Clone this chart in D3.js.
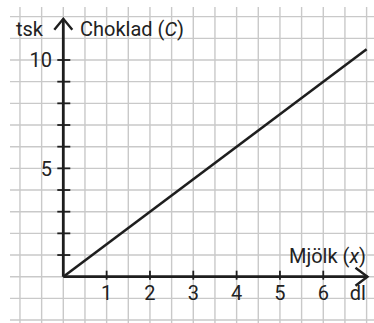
<!DOCTYPE html>
<html>
<head>
<meta charset="utf-8">
<script src="https://cdn.jsdelivr.net/npm/d3@7"></script>
<style>
  html, body { margin: 0; padding: 0; background: #fff; }
  svg text { font-family: Roboto, "Open Sans", sans-serif; fill: #222; }
</style>
</head>
<body>
<svg id="chart"></svg>
<script>
const xTicks = [1, 2, 3, 4, 5, 6]
const yTicks = [1, 2, 3, 4, 5, 6, 7, 8, 9, 10]
const yLabels = [5, 10]
const linePoints = [[0, 0], [7, 10.5]]
const xAxisEnd = 7.02
const yAxisEnd = 11.9

const width = 374
const height = 323
const fs = 20
const svg = d3.select('#chart').attr('width', width).attr('height', height)

const x = d3.scaleLinear().domain([0, 7]).range([63.3, 366.6])
const y = d3.scaleLinear().domain([0, 10]).range([276.7, 60])

// grid: half units on x, whole units on y
const gridX = d3.range(-1, 7.01, 0.5)
const gridY = d3.range(-2, 12.01, 1)
const grid = svg.append('g').attr('stroke', '#c9c9c9').attr('stroke-width', 1.4)
grid.selectAll('.gx').data(gridX).enter().append('line')
  .attr('x1', d => x(d)).attr('x2', d => x(d))
  .attr('y1', 7).attr('y2', height)
grid.selectAll('.gy').data(gridY).enter().append('line')
  .attr('x1', 10).attr('x2', width)
  .attr('y1', d => y(d)).attr('y2', d => y(d))

const ink = '#1e1e1e'
const axes = svg.append('g').attr('stroke', ink).attr('fill', 'none')

// axes lines
axes.append('line')
  .attr('x1', x(0)).attr('x2', x(xAxisEnd))
  .attr('y1', y(0)).attr('y2', y(0))
  .attr('stroke-width', 2.8)
axes.append('line')
  .attr('x1', x(0)).attr('x2', x(0))
  .attr('y1', y(0)).attr('y2', y(yAxisEnd))
  .attr('stroke-width', 2.8)

// arrow heads
const xt = [x(xAxisEnd), y(0)]
axes.append('path')
  .attr('d', `M${xt[0] - 12},${xt[1] - 9}L${xt[0]},${xt[1]}L${xt[0] - 12},${xt[1] + 9}`)
  .attr('stroke-width', 2.4)
const yt = [x(0), y(yAxisEnd)]
axes.append('path')
  .attr('d', `M${yt[0] - 9},${yt[1] + 11}L${yt[0]},${yt[1]}L${yt[0] + 9},${yt[1] + 11}`)
  .attr('stroke-width', 2.4)

// ticks
axes.selectAll('.tx').data(xTicks).enter().append('line')
  .attr('x1', d => x(d)).attr('x2', d => x(d))
  .attr('y1', y(0) - 6).attr('y2', y(0) + 3)
  .attr('stroke-width', 1.8)
axes.selectAll('.ty').data(yTicks).enter().append('line')
  .attr('x1', x(0) - 6).attr('x2', x(0) + 7)
  .attr('y1', d => y(d)).attr('y2', d => y(d))
  .attr('stroke-width', 1.8)

// tick labels
svg.selectAll('.lx').data(xTicks).enter().append('text')
  .attr('x', d => x(d)).attr('y', 300)
  .attr('text-anchor', 'middle')
  .attr('font-size', fs)
  .text(d => d)
svg.selectAll('.ly').data(yLabels).enter().append('text')
  .attr('x', 52).attr('y', d => y(d))
  .attr('dy', '0.36em')
  .attr('text-anchor', 'end')
  .attr('font-size', fs)
  .text(d => d)

// data line
svg.append('path')
  .datum(linePoints)
  .attr('d', d3.line().x(d => x(d[0])).y(d => y(d[1])))
  .attr('stroke', ink).attr('stroke-width', 2.6).attr('fill', 'none')

// axis titles
svg.append('text').attr('x', 16).attr('y', 36).attr('font-size', fs).text('tsk')
const cTitle = svg.append('text').attr('x', 80).attr('y', 36).attr('font-size', fs)
cTitle.append('tspan').text('Choklad (')
cTitle.append('tspan').attr('font-style', 'italic').text('C')
cTitle.append('tspan').text(')')

const mTitle = svg.append('text').attr('x', 366).attr('y', 263).attr('font-size', fs).attr('text-anchor', 'end')
mTitle.append('tspan').text('Mjölk (')
mTitle.append('tspan').attr('font-style', 'italic').text('x')
mTitle.append('tspan').text(')')
svg.append('text').attr('x', 366).attr('y', 300).attr('font-size', fs).attr('text-anchor', 'end').text('dl')
</script>
</body>
</html>
